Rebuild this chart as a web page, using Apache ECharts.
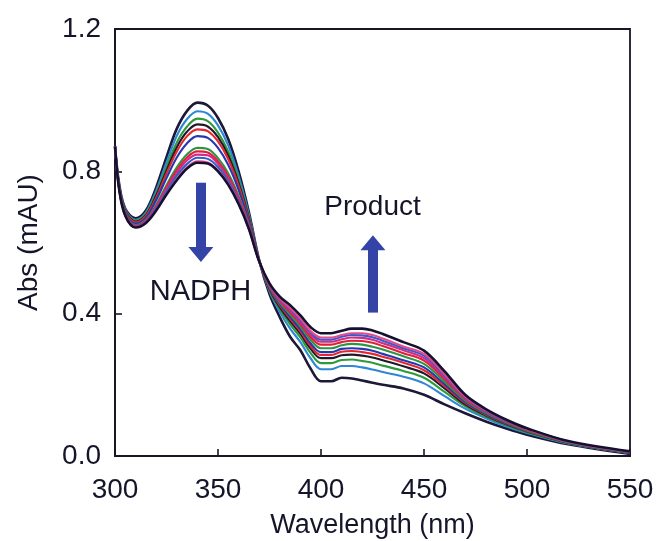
<!DOCTYPE html>
<html>
<head>
<meta charset="utf-8">
<script src="https://cdn.jsdelivr.net/npm/echarts@6/dist/echarts.min.js"></script>
<style>
  html, body { margin: 0; padding: 0; background: #fff; }
  #chart { width: 659px; height: 541px; }
</style>
</head>
<body>
<div id="chart"></div>
<script>
// Wavelength sampling (nm)
const wavelengths = [300, 302, 305, 310, 315, 320, 325, 330, 335, 340, 345, 350, 355, 360, 365, 370,
  375, 380, 385, 390, 395, 400, 405, 410, 415, 420, 425, 430, 440, 450, 460, 470, 480, 490, 500, 520, 550];

// Absorbance spectra recorded over the course of the reaction (first to last)
const scan01 = [.87,.765,.695,.668,.690,.755,.840,.920,.970,.993,.985,.950,.890,.800,.685,.550,.455,.390,.335,.297,.245,.210,.210,.220,.218,.212,.206,.200,.190,.172,.145,.120,.097,.077,.060,.033,.006];
const scan02 = [.87,.763,.692,.664,.685,.746,.825,.900,.947,.969,.962,.929,.872,.787,.679,.550,.463,.405,.358,.320,.274,.244,.244,.253,.253,.249,.243,.236,.223,.204,.168,.133,.106,.083,.065,.035,.008];
const scan03 = [.87,.761,.690,.661,.681,.737,.812,.881,.926,.948,.941,.909,.855,.775,.673,.549,.466,.413,.370,.333,.289,.261,.261,.270,.271,.267,.262,.254,.239,.220,.180,.140,.110,.087,.067,.036,.009];
const scan04 = [.87,.760,.688,.659,.677,.732,.802,.868,.912,.932,.926,.896,.844,.767,.669,.549,.469,.418,.379,.343,.301,.275,.275,.283,.285,.282,.277,.269,.252,.232,.190,.145,.114,.089,.069,.037,.009];
const scan05 = [.87,.758,.686,.657,.675,.726,.794,.856,.899,.918,.913,.884,.834,.760,.665,.549,.471,.423,.386,.350,.309,.284,.284,.293,.295,.292,.287,.279,.262,.241,.196,.149,.116,.091,.070,.038,.010];
const scan06 = [.87,.757,.684,.653,.670,.719,.781,.839,.879,.899,.894,.866,.818,.748,.659,.548,.473,.427,.391,.356,.316,.292,.292,.301,.303,.301,.296,.287,.269,.249,.202,.152,.118,.092,.071,.038,.010];
const scan07 = [.87,.754,.680,.649,.664,.706,.761,.811,.848,.866,.863,.837,.794,.731,.650,.548,.476,.431,.398,.364,.326,.303,.303,.311,.315,.313,.307,.299,.280,.259,.209,.156,.121,.094,.072,.039,.011];
const scan08 = [.87,.753,.679,.647,.662,.702,.755,.803,.839,.856,.853,.828,.786,.725,.647,.548,.478,.435,.404,.371,.334,.313,.313,.320,.324,.323,.318,.309,.289,.268,.216,.160,.124,.096,.074,.040,.011];
const scan09 = [.87,.752,.678,.646,.660,.699,.750,.795,.831,.847,.845,.821,.780,.721,.645,.547,.480,.438,.409,.377,.341,.321,.321,.328,.333,.332,.327,.317,.297,.275,.221,.163,.126,.098,.075,.040,.012];
const scan10 = [.87,.751,.677,.644,.658,.695,.743,.787,.821,.838,.835,.812,.772,.715,.642,.547,.481,.441,.413,.382,.347,.327,.327,.335,.340,.339,.334,.324,.303,.282,.226,.165,.127,.099,.076,.041,.012];
const scan11 = [.87,.750,.675,.643,.656,.691,.737,.778,.811,.828,.825,.803,.765,.710,.639,.547,.483,.443,.416,.386,.351,.333,.333,.340,.345,.345,.340,.330,.308,.287,.230,.167,.129,.100,.076,.041,.012];
const scan12 = [.87,.750,.675,.642,.655,.690,.735,.775,.808,.824,.822,.800,.762,.708,.638,.547,.485,.448,.424,.395,.362,.345,.345,.352,.358,.358,.353,.343,.320,.296,.238,.172,.132,.102,.078,.042,.013];

const scans = [scan01, scan02, scan03, scan04, scan05, scan06, scan07, scan08, scan09, scan10, scan11, scan12];
const scanColors = ['#1c1838', '#2e86d6', '#2e9a3c', '#22182a', '#e3262f', '#2638b0',
                    '#2e9444', '#e0203a', '#d42a86', '#2f5fc8', '#e8488e', '#161030'];

const xTicks = [300, 550, 50];   // min, max, step
const yTicks = [0, 1.2, 0.4];

// Annotation arrows: [wavelength, from, to] and labels: [text, wavelength, abs]
const nadphArrow = [341.7, 0.768, 0.566];
const productArrow = [425.2, 0.403, 0.599];
const nadphLabel = ['NADPH', 341.5, 0.460];
const productLabel = ['Product', 425, 0.698];

const arrowColor = '#3343a6';
const textColor = '#15152a';
const font = 'Liberation Sans, Arial, sans-serif';

const chart = echarts.init(document.getElementById('chart'), null, { renderer: 'canvas' });

const series = scans.map((vals, i) => ({
  type: 'line',
  name: 'scan ' + (i + 1),
  data: wavelengths.map((w, k) => [w, vals[k]]),
  smooth: 0.35,
  showSymbol: false,
  symbol: 'none',
  lineStyle: { color: scanColors[i], width: i === 11 || i === 0 ? 2.6 : 2.1 },
  z: 2 + i,
  silent: true
}));

function arrowLine(a) {
  return [{ coord: [a[0], a[1]] }, { coord: [a[0], a[2]] }];
}

series.push({
  type: 'line',
  data: [],
  silent: true,
  markLine: {
    silent: true,
    symbol: ['none', 'triangle'],
    symbolSize: [25, 15],
    label: { show: false },
    lineStyle: { color: arrowColor, width: 10, type: 'solid', cap: 'butt' },
    itemStyle: { color: arrowColor },
    emphasis: { disabled: true },
    data: [arrowLine(nadphArrow), arrowLine(productArrow)]
  },
  markPoint: {
    silent: true,
    symbol: 'circle',
    symbolSize: 0,
    label: {
      show: true,
      position: 'inside',
      color: textColor,
      fontFamily: font,
      fontSize: 29
    },
    data: [
      { coord: [nadphLabel[1], nadphLabel[2]], label: { formatter: nadphLabel[0], fontSize: 29 } },
      { coord: [productLabel[1], productLabel[2]], label: { formatter: productLabel[0], fontSize: 28 } }
    ]
  },
  z: 20
});

chart.setOption({
  animation: false,
  backgroundColor: '#ffffff',
  grid: {
    left: 115, right: 29, top: 29, bottom: 85,
    outerBoundsMode: 'none',
    containLabel: false,
    show: true, borderColor: '#1a1424', borderWidth: 1.8, backgroundColor: 'transparent'
  },
  xAxis: {
    type: 'value',
    min: xTicks[0], max: xTicks[1], interval: xTicks[2],
    name: 'Wavelength (nm)',
    nameLocation: 'middle',
    nameGap: 56,
    nameTextStyle: { color: textColor, fontSize: 27, fontFamily: font },
    axisLine: { show: true, lineStyle: { color: '#1a1424', width: 1.8 } },
    axisTick: { show: true, inside: true, length: 7, lineStyle: { color: '#1a1424', width: 1.6 } },
    axisLabel: { color: textColor, fontSize: 28, fontFamily: font, margin: 20 },
    splitLine: { show: false }
  },
  yAxis: {
    type: 'value',
    min: yTicks[0], max: yTicks[1], interval: yTicks[2],
    name: 'Abs (mAU)',
    nameLocation: 'middle',
    nameGap: 72,
    nameTextStyle: { color: textColor, fontSize: 28, fontFamily: font },
    axisLine: { show: true, lineStyle: { color: '#1a1424', width: 1.8 } },
    axisTick: { show: true, inside: true, length: 7, lineStyle: { color: '#1a1424', width: 1.6 } },
    axisLabel: { color: textColor, fontSize: 28, fontFamily: font, margin: 14,
                 formatter: v => v.toFixed(1) },
    splitLine: { show: false }
  },
  series: series
});
</script>
</body>
</html>
